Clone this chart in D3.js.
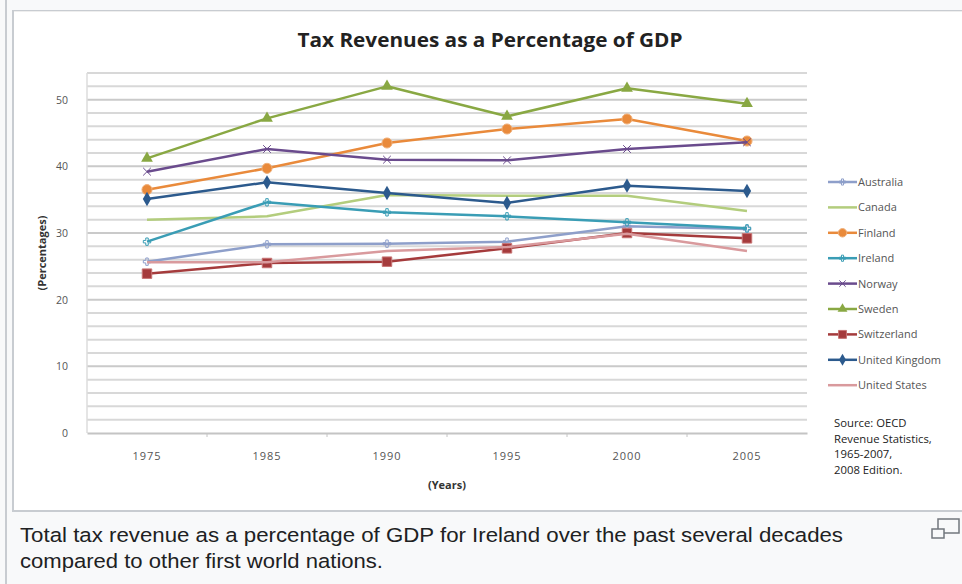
<!DOCTYPE html>
<html>
<head>
<script src="https://cdn.jsdelivr.net/npm/d3@7"></script>
<style>
  body { margin: 0; background: #f8f9fa; }
  svg { display: block; }
  .tick text { font-family: "Open Sans", sans-serif; }
</style>
</head>
<body>
<svg id="chart"></svg>
<script>
// values, percent of GDP
let years = ["1975", "1985", "1990", "1995", "2000", "2005"]
let countries = ["Australia", "Canada", "Finland", "Ireland", "Norway", "Sweden", "Switzerland", "United Kingdom", "United States"]

let australia   = [25.7, 28.3, 28.4, 28.7, 31.0, 30.6]
let canada      = [32.0, 32.5, 35.7, 35.6, 35.6, 33.3]
let finland     = [36.5, 39.7, 43.5, 45.6, 47.1, 43.8]
let ireland     = [28.7, 34.6, 33.1, 32.5, 31.6, 30.7]
let norway      = [39.2, 42.6, 41.0, 40.9, 42.6, 43.6]
let sweden      = [41.2, 47.2, 52.0, 47.5, 51.7, 49.4]
let switzerland = [23.9, 25.5, 25.7, 27.7, 30.0, 29.2]
let uk          = [35.1, 37.6, 36.0, 34.5, 37.1, 36.3]
let us          = [25.6, 25.6, 27.3, 27.9, 29.9, 27.3]

let yTicks = [0, 10, 20, 30, 40, 50]

let series = [
  { name: countries[0], values: australia,   color: "#8e9fca", marker: "plus" },
  { name: countries[1], values: canada,      color: "#b3cd7d", marker: null },
  { name: countries[2], values: finland,     color: "#e98a3b", marker: "circle" },
  { name: countries[3], values: ireland,     color: "#3a9db5", marker: "plus" },
  { name: countries[4], values: norway,      color: "#6a4b8d", marker: "cross" },
  { name: countries[5], values: sweden,      color: "#89a843", marker: "triangle" },
  { name: countries[6], values: switzerland, color: "#a53b3c", marker: "square" },
  { name: countries[7], values: uk,          color: "#2c5a8d", marker: "diamond" },
  { name: countries[8], values: us,          color: "#d99a9d", marker: null }
]

let width = 962
let height = 584
let margin = { top: 73, left: 87, right: 155, bottom: 151 }
let bodyWidth = width - margin.left - margin.right
let bodyHeight = height - margin.top - margin.bottom

let svg = d3.select("#chart").attr("width", width).attr("height", height)

// wiki thumbnail frame
svg.append("rect").attr("x", 5).attr("y", 0).attr("width", 2).attr("height", height).attr("fill", "#c8ccd1")
svg.append("rect").attr("x", 12).attr("y", 10).attr("width", width).attr("height", 502).attr("fill", "#c8ccd1")
svg.append("rect").attr("x", 14).attr("y", 11).attr("width", width).attr("height", 499).attr("fill", "#ffffff")
svg.append("line").attr("x1", 14).attr("x2", width).attr("y1", 11.5).attr("y2", 11.5).attr("stroke", "#eeeeee")

let xScale = d3.scaleBand().domain(years).range([0, bodyWidth])
let yScale = d3.scaleLinear().domain([0, 54]).range([bodyHeight, 0])

let body = svg.append("g").attr("transform", `translate(${margin.left},${margin.top})`)

// gridlines every 2 points
body.selectAll(".grid")
  .data(d3.range(2, 55, 2))
  .enter()
  .append("line")
    .attr("x1", 0)
    .attr("x2", bodyWidth)
    .attr("y1", d => yScale(d))
    .attr("y2", d => yScale(d))
    .attr("stroke", d => d % 10 == 0 ? "#cacaca" : "#d8d8d8")
    .attr("stroke-width", 2)

body.append("line").attr("x1", 0).attr("x2", 0).attr("y1", 0).attr("y2", bodyHeight)
  .attr("stroke", "#dddddd").attr("stroke-width", 1.5)

// axes
let yAxis = d3.axisLeft(yScale).tickValues(yTicks).tickSize(0).tickPadding(19)
let gy = body.append("g").call(yAxis)
gy.select(".domain").remove()
gy.selectAll("text").attr("font-size", 10.5).attr("fill", "#555")

let xAxis = d3.axisBottom(xScale).tickSize(0).tickPadding(19)
let gx = body.append("g").attr("transform", `translate(0,${bodyHeight})`).call(xAxis)
gx.select(".domain").attr("stroke", "#c4c4c4").attr("stroke-width", 2)
gx.selectAll("text").attr("font-size", 11).attr("letter-spacing", 1).attr("fill", "#555")

// category boundary ticks
body.selectAll(".xtick")
  .data(years.slice(1))
  .enter()
  .append("line")
    .attr("x1", d => xScale(d))
    .attr("x2", d => xScale(d))
    .attr("y1", bodyHeight)
    .attr("y2", bodyHeight + 4)
    .attr("stroke", "#c4c4c4")

let line = d3.line()
  .x((d, i) => xScale(years[i]) + xScale.bandwidth() / 2)
  .y(d => yScale(d))

function drawMarker(g, type, color, size) {
  if (type == "circle") {
    g.append("path").attr("d", d3.symbol(d3.symbolCircle, size * 8)).attr("fill", color).attr("stroke", "#f0b07a").attr("stroke-width", 1)
  } else if (type == "triangle") {
    g.append("path").attr("d", d3.symbol(d3.symbolTriangle, size * 6)).attr("fill", color)
  } else if (type == "square") {
    g.append("path").attr("d", d3.symbol(d3.symbolSquare, size * 9)).attr("fill", color).attr("stroke", "#c77474").attr("stroke-width", 1)
  } else if (type == "diamond") {
    g.append("path").attr("d", d3.symbol(d3.symbolDiamond, size * 6)).attr("fill", color)
  } else if (type == "cross") {
    g.append("path").attr("d", d3.symbol(d3.symbolX, size * 4)).attr("fill", "none").attr("stroke", color).attr("stroke-width", 1)
  } else if (type == "plus") {
    g.append("path").attr("d", d3.symbol(d3.symbolCross, size * 3)).attr("fill", "none").attr("stroke", color).attr("stroke-width", 1)
  }
}

series.forEach(s => {
  body.append("path")
    .datum(s.values)
    .attr("d", line)
    .attr("fill", "none")
    .attr("stroke", s.color)
    .attr("stroke-width", 2.5)
    .attr("stroke-linejoin", "round")

  s.values.forEach((v, i) => {
    let g = body.append("g")
      .attr("transform", `translate(${xScale(years[i]) + xScale.bandwidth() / 2},${yScale(v)})`)
    drawMarker(g, s.marker, s.color, 10)
  })
})

// legend
let legend = svg.append("g").attr("transform", "translate(828,182)")
series.forEach((s, i) => {
  let item = legend.append("g").attr("transform", `translate(0,${i * 25.4})`)
  item.append("line").attr("x1", 0).attr("x2", 29).attr("y1", 0).attr("y2", 0)
    .attr("stroke", s.color).attr("stroke-width", 2.5)
  let m = item.append("g").attr("transform", "translate(14.5,0)")
  drawMarker(m, s.marker, s.color, 7)
  item.append("text").attr("x", 30).attr("y", 4)
    .attr("font-family", "Open Sans, sans-serif").attr("font-size", 11).attr("fill", "#555")
    .text(s.name)
})

// titles
svg.append("text").attr("x", 490).attr("y", 47).attr("text-anchor", "middle")
  .attr("font-family", "Open Sans, sans-serif").attr("font-weight", "bold").attr("font-size", 20).attr("fill", "#222")
  .attr("textLength", 385).attr("lengthAdjust", "spacingAndGlyphs")
  .text("Tax Revenues as a Percentage of GDP")

svg.append("text").attr("transform", `translate(46,${margin.top + bodyHeight / 2}) rotate(-90)`)
  .attr("text-anchor", "middle")
  .attr("font-family", "Open Sans, sans-serif").attr("font-weight", "bold").attr("font-size", 11).attr("fill", "#333")
  .text("(Percentages)")

svg.append("text").attr("x", margin.left + bodyWidth / 2).attr("y", 489).attr("text-anchor", "middle")
  .attr("font-family", "Open Sans, sans-serif").attr("font-weight", "bold").attr("font-size", 11).attr("fill", "#333")
  .text("(Years)")

let source = ["Source: OECD", "Revenue Statistics,", "1965-2007,", "2008 Edition."]
svg.append("g").selectAll("text")
  .data(source)
  .enter()
  .append("text")
    .attr("x", 834)
    .attr("y", (d, i) => 427 + i * 15.5)
    .attr("font-family", "Open Sans, sans-serif").attr("font-size", 11.3).attr("fill", "#222")
    .text(d => d)

// caption
let caption = ["Total tax revenue as a percentage of GDP for Ireland over the past several decades",
               "compared to other first world nations."]
let captionWidths = [823, 363]
svg.append("g").selectAll("text")
  .data(caption)
  .enter()
  .append("text")
    .attr("x", 20)
    .attr("y", (d, i) => 542 + i * 26)
    .attr("font-family", "Liberation Sans, Arial, sans-serif").attr("font-size", 20.5).attr("fill", "#202122")
    .attr("textLength", (d, i) => captionWidths[i]).attr("lengthAdjust", "spacingAndGlyphs")
    .text(d => d)

// enlarge icon
let icon = svg.append("g").attr("fill", "none").attr("stroke", "#72777d").attr("stroke-width", 1.5)
icon.append("rect").attr("x", 938).attr("y", 519).attr("width", 21).attr("height", 14)
icon.append("rect").attr("x", 932).attr("y", 529).attr("width", 12).attr("height", 9).attr("fill", "#f8f9fa")
</script>
</body>
</html>
